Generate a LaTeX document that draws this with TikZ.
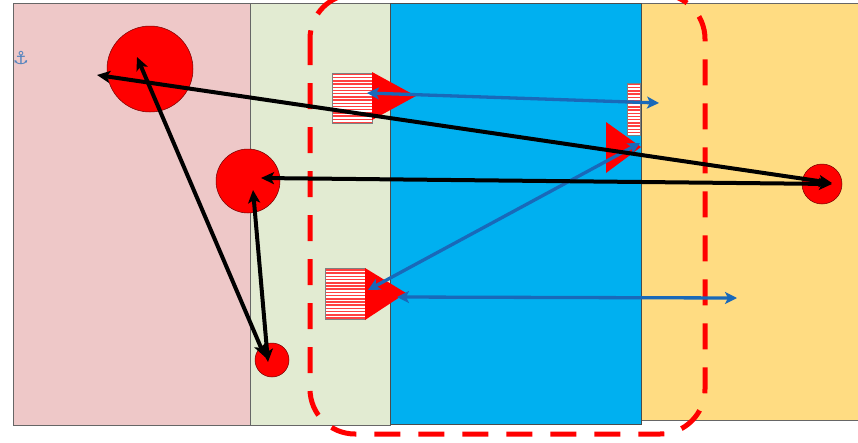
\documentclass[tikz,border=0pt]{standalone}
\usepackage{fontspec}
\newfontfamily\symfont{DejaVu Sans}
\usetikzlibrary{arrows.meta}
\definecolor{pinkbg}{RGB}{238,200,200}
\definecolor{greenbg}{RGB}{226,235,210}
\definecolor{bluebg}{RGB}{0,176,240}
\definecolor{yellowbg}{RGB}{255,220,130}
\definecolor{arrblue}{RGB}{25,105,185}
\definecolor{anchorblue}{RGB}{80,130,190}
\tikzset{
  panel/.style={draw=gray!80!black, line width=0.8pt},
  ball/.style={circle, fill=red, draw=red!45!black, line width=0.5pt, inner sep=0pt},
  hatchbox/.style={rectangle, draw=gray, line width=0.7pt, inner sep=0pt, fill=white,
    path picture={\foreach \k in {0,...,17}
      \draw[red!75, line width=1.5pt]
        ([yshift={-1.5pt-\k*3.2pt}]path picture bounding box.north west) --
        ([yshift={-1.5pt-\k*3.2pt}]path picture bounding box.north east);}},
  tri/.style={fill=red, draw=none},
  blk/.style={line width=4pt, black,
    {Stealth[length=13pt,width=12pt,inset=3pt]}-{Stealth[length=13pt,width=12pt,inset=3pt]}},
  blu/.style={line width=3.3pt, arrblue,
    {Stealth[length=12pt,width=12pt,inset=3pt]}-{Stealth[length=12pt,width=12pt,inset=3pt]}},
  frame/.style={draw=red, line width=5pt, dash pattern=on 26pt off 18pt, rounded corners=45pt}
}
\begin{document}
\begin{tikzpicture}[x=1pt,y=-1pt]
\useasboundingbox (0,0) rectangle (858,442);
\clip (0,0) rectangle (858,442);
\fill[white] (0,0) rectangle (858,442);
% panels
\filldraw[panel, fill=pinkbg] (13,3) rectangle (250,425);
\filldraw[panel, fill=greenbg] (250,3) rectangle (390,425);
\filldraw[panel, fill=yellowbg] (641,3) rectangle (870,420);
\filldraw[draw=black!70, line width=0.8pt, fill=bluebg] (390,3) rectangle (641,424);
% anchor
\node[text=anchorblue, font=\symfont\fontsize{18}{18}\selectfont, inner sep=0pt] (anc) at (21,58) {⚓};
% dashed frame
\draw[frame] (310,-6) rectangle (705,434);
% circles
\node[ball, minimum size=86pt] (bigc) at (150,69) {};
\node[ball, minimum size=64pt] (midc) at (248,181) {};
\node[ball, minimum size=34pt] (smallc) at (272,360) {};
\node[ball, minimum size=40pt] (rightc) at (822,184) {};
% hatched boxes and triangles
\node[hatchbox, minimum width=40pt, minimum height=50pt] (hb1) at (352,98) {};
\fill[tri] (372,72) -- (416,96) -- (372,120) -- cycle;
\node[hatchbox, minimum width=40pt, minimum height=51pt] (hb2) at (345,294) {};
\fill[tri] (365,268) -- (406,293) -- (365,320) -- cycle;
\node[hatchbox, minimum width=13pt, minimum height=52pt] (hb3) at (634,109) {};
\fill[tri] (606,122) -- (641,147) -- (606,173) -- cycle;
% arrow end points
\coordinate (a1) at (97,75);
\coordinate (a2) at (832,183);
\coordinate (b1) at (261,178);
\coordinate (b2) at (832,184);
\coordinate (c1) at (137,57);
\coordinate (c2) at (265,357);
\coordinate (d1) at (253,190);
\coordinate (d2) at (268,362);
\coordinate (e1) at (367,93);
\coordinate (e2) at (659,103);
\coordinate (f1) at (368,290);
\coordinate (f2) at (640,143);
\coordinate (g1) at (397,297);
\coordinate (g2) at (737,298);
% blue arrows
\draw[blu] (e1) -- (e2);
\draw[blu] (f1) -- (f2);
\draw[blu] (g1) -- (g2);
% black arrows
\draw[blk] (a1) -- (a2);
\draw[blk] (b1) -- (b2);
\draw[blk] (c1) -- (c2);
\draw[blk] (d1) -- (d2);
\end{tikzpicture}
\end{document}
